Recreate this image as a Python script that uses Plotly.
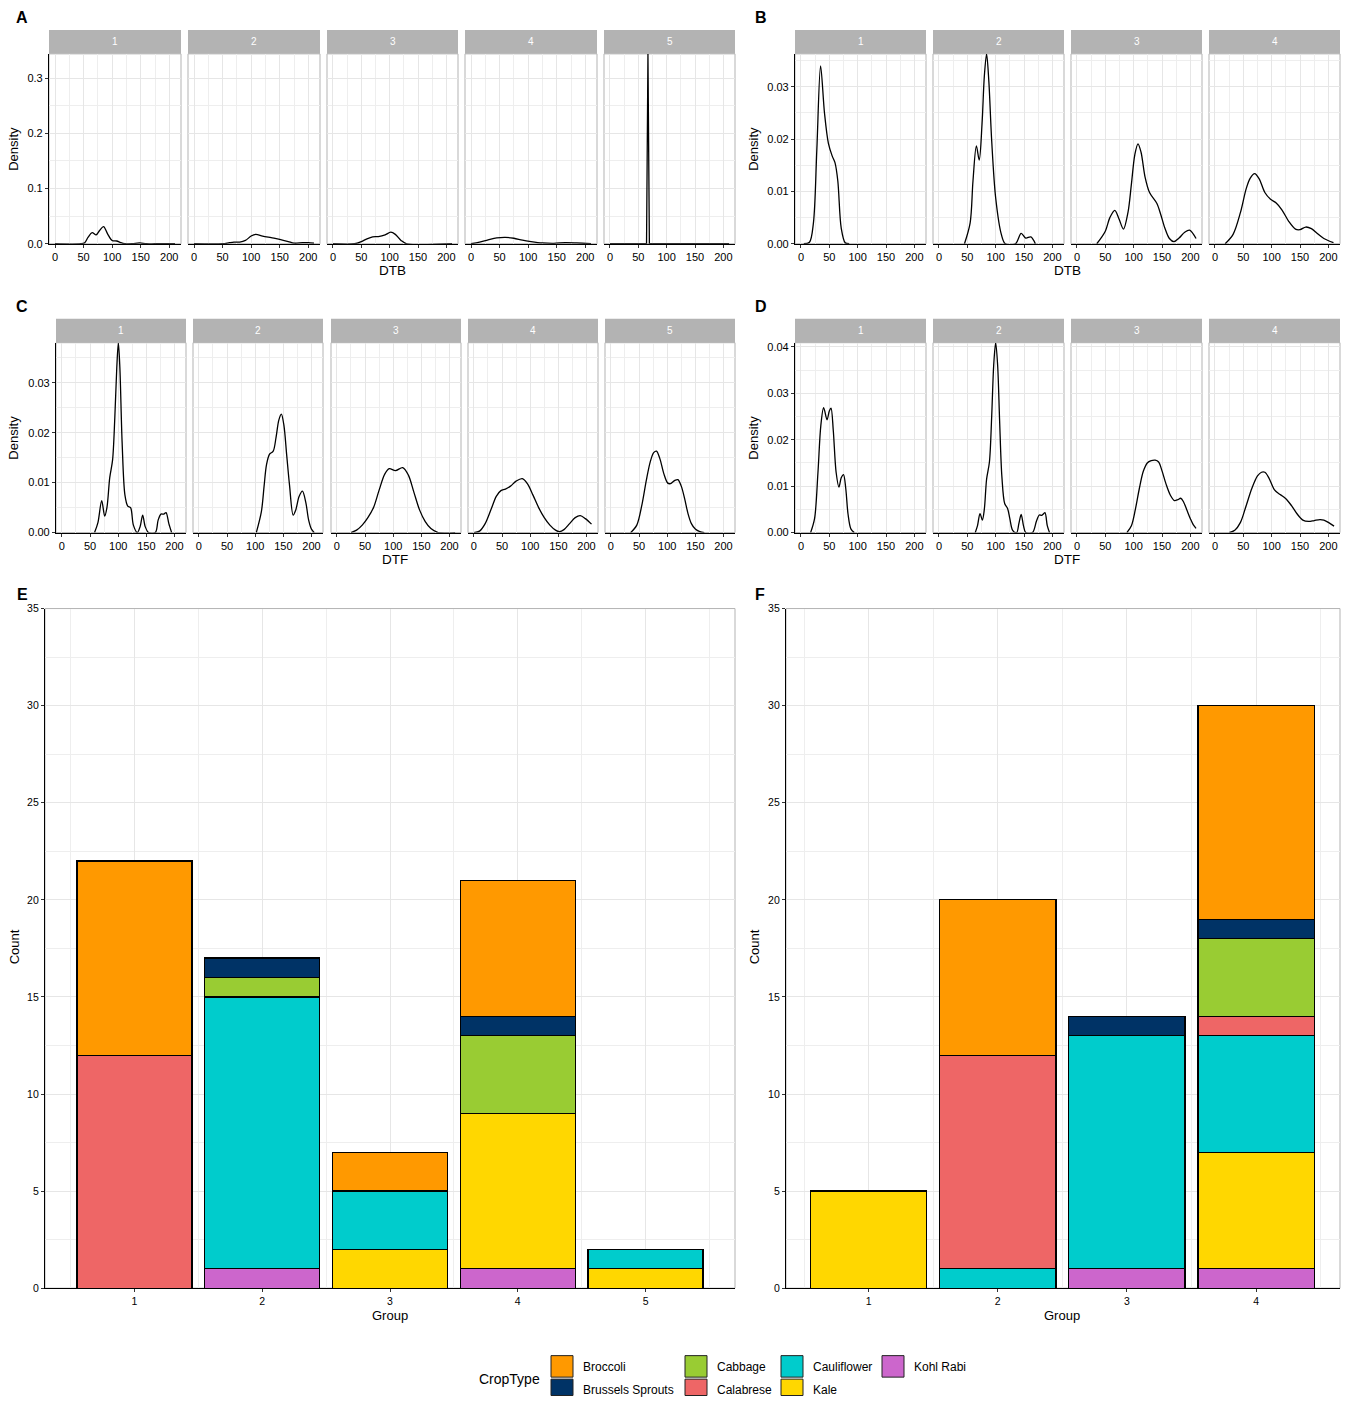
import plotly.graph_objects as go

W, H = 1353, 1402
FONT = "Liberation Sans, Arial, sans-serif"

# ---------------- data: density curves ----------------
# Panel A : DTB, 5 groups
a1_x = [0, 45, 52, 58, 65, 72, 78, 85, 92, 100, 108, 115, 122, 135, 148, 160, 175, 210]
a1_y = [0, 0, 0.002, 0.012, 0.02, 0.016, 0.024, 0.031, 0.018, 0.006, 0.005, 0.002, 0.0, 0.0, 0.0015, 0.0, 0.0, 0.0]
a2_x = [0, 50, 62, 70, 80, 90, 100, 108, 120, 135, 150, 165, 175, 190, 200, 210]
a2_y = [0, 0, 0.002, 0.003, 0.003, 0.006, 0.014, 0.017, 0.014, 0.011, 0.008, 0.004, 0.001, 0.002, 0.002, 0.001]
a3_x = [0, 38, 50, 60, 70, 80, 92, 102, 110, 120, 130, 210]
a3_y = [0, 0, 0.004, 0.009, 0.0125, 0.013, 0.016, 0.021, 0.017, 0.006, 0.0, 0]
a4_x = [0, 15, 30, 45, 60, 75, 90, 105, 125, 145, 165, 185, 210]
a4_y = [0, 0.003, 0.007, 0.0105, 0.0115, 0.01, 0.0065, 0.004, 0.0015, 0.0008, 0.0022, 0.0015, 0.0]
a5_x = [0, 64.5, 67, 69.5, 210]
a5_y = [0, 0, 0.344, 0, 0]

# Panel B : DTB, 4 groups
b1_x = [5, 15, 22, 28, 34.6, 41.5, 48.4, 55, 60, 65, 71, 78, 85]
b1_y = [0, 0.0003, 0.004, 0.018, 0.034, 0.025, 0.0192, 0.0168, 0.0155, 0.012, 0.003, 0.0002, 0]
b2_x = [45, 55, 60, 66, 71, 76, 80, 84, 88, 93, 100, 110, 117, 135, 145, 153, 162, 170]
b2_y = [0, 0.004, 0.012, 0.0187, 0.016, 0.023, 0.032, 0.0363, 0.031, 0.0197, 0.0088, 0.0018, 0.0, 0.0, 0.002, 0.0011, 0.0013, 0.0]
b3_x = [35, 50, 58, 66.7, 74, 82, 90, 96, 102, 107.6, 113, 120, 128, 141, 148, 155, 163, 171, 180, 190, 198.6, 210]
b3_y = [0, 0.0024, 0.005, 0.0064, 0.0048, 0.0028, 0.006, 0.0114, 0.017, 0.0191, 0.0175, 0.0128, 0.0098, 0.0077, 0.0055, 0.003, 0.001, 0.0004, 0.0011, 0.0022, 0.0026, 0.001]
b4_x = [18, 32, 45, 55, 62, 70, 78, 88, 98, 108, 118, 130, 142, 150, 160, 170, 180, 192, 209]
b4_y = [0, 0.0018, 0.006, 0.0105, 0.0125, 0.0134, 0.0124, 0.0098, 0.0085, 0.0078, 0.0065, 0.0043, 0.0028, 0.0027, 0.0032, 0.0029, 0.002, 0.001, 0.0002]

# Panel C : DTF, 5 groups
c1_x = [58, 64, 70.7, 76, 80, 85, 90, 94, 97.5, 100.3, 103, 107, 112, 117, 122, 127, 134, 139, 143.5, 148, 154, 166, 171, 176, 181, 185, 190, 195]
c1_y = [0, 0.002, 0.0064, 0.0033, 0.005, 0.011, 0.0145, 0.023, 0.033, 0.038, 0.033, 0.018, 0.0075, 0.0053, 0.005, 0.0015, 0.0, 0.0012, 0.0035, 0.0012, 0.0, 0.0, 0.0025, 0.0037, 0.0037, 0.004, 0.0018, 0.0]
c2_x = [102, 111, 116, 120, 125.5, 132, 137, 142, 146.5, 151, 156, 161, 167.5, 172, 178, 184, 190, 195, 200, 205]
c2_y = [0, 0.0042, 0.0095, 0.0135, 0.0157, 0.0163, 0.019, 0.0225, 0.0237, 0.0215, 0.0155, 0.0095, 0.0035, 0.0045, 0.0072, 0.0083, 0.006, 0.0025, 0.0007, 0]
c3_x = [25, 35, 45, 55, 65, 75, 85, 93, 104, 117, 127, 137, 147, 157, 167, 180, 210]
c3_y = [0, 0.0005, 0.0015, 0.003, 0.005, 0.0085, 0.0117, 0.0128, 0.0124, 0.013, 0.0115, 0.008, 0.0045, 0.0022, 0.0008, 0, 0]
c4_x = [0, 10, 20, 30, 40, 48, 56, 65, 75, 86, 95, 105, 115, 125, 135, 145, 152, 160, 170, 180, 189, 198, 209]
c4_y = [0, 0.0003, 0.0018, 0.0045, 0.0073, 0.0084, 0.0087, 0.0093, 0.0103, 0.0108, 0.0098, 0.0075, 0.005, 0.003, 0.0015, 0.0005, 0.0002, 0.0006, 0.0018, 0.003, 0.0034, 0.0028, 0.0017]
c5_x = [35, 46, 55, 63, 70, 76, 81, 87, 94, 101, 106, 113, 119, 125, 131, 137, 143, 150, 158, 166]
c5_y = [0, 0.0015, 0.0055, 0.0105, 0.0142, 0.016, 0.0163, 0.0148, 0.0118, 0.0099, 0.0098, 0.0104, 0.0106, 0.0093, 0.0068, 0.0038, 0.0018, 0.0007, 0.0002, 0]

# Panel D : DTF, 4 groups
d1_x = [17, 24, 30, 35, 40, 46, 50, 53, 57, 62, 67, 71, 75, 79, 83, 88, 94]
d1_y = [0, 0.003, 0.013, 0.023, 0.0269, 0.0243, 0.0262, 0.0268, 0.022, 0.013, 0.0098, 0.0118, 0.0125, 0.0095, 0.004, 0.0008, 0]
d2_x = [64, 68, 72.4, 76.5, 80, 84, 89, 93, 96.5, 100, 103.5, 107, 111, 116, 121, 125, 130, 137, 141, 145, 149, 153, 165, 172, 177, 181, 184, 187, 191, 195]
d2_y = [0, 0.0015, 0.0041, 0.0027, 0.005, 0.0115, 0.0152, 0.025, 0.036, 0.0409, 0.036, 0.024, 0.012, 0.0062, 0.0052, 0.003, 0.0005, 0.0, 0.002, 0.0039, 0.0015, 0.0, 0.0, 0.0025, 0.0038, 0.0037, 0.004, 0.0043, 0.0015, 0]
d3_x = [88, 96, 103, 110, 117, 124, 131, 138, 144, 150, 157, 165, 172, 178, 183, 188, 194, 200, 205, 210]
d3_y = [0, 0.0015, 0.005, 0.0095, 0.0132, 0.015, 0.0155, 0.0156, 0.0152, 0.0133, 0.0105, 0.008, 0.0069, 0.0071, 0.0074, 0.0066, 0.0048, 0.003, 0.0017, 0.0009]
d4_x = [25, 35, 45, 55, 65, 75, 82, 88, 95, 105, 115, 125, 135, 145, 155, 165, 175, 185, 192, 200, 210]
d4_y = [0, 0.0005, 0.0022, 0.0058, 0.0095, 0.0122, 0.013, 0.013, 0.0118, 0.0092, 0.0082, 0.0073, 0.0058, 0.004, 0.0027, 0.0024, 0.0026, 0.0028, 0.0027, 0.0022, 0.0014]

density_ticks = [0, 50, 100, 150, 200]

# ---------------- data: stacked bars ----------------
crop_types = ["Broccoli", "Brussels Sprouts", "Cabbage", "Calabrese", "Cauliflower", "Kale", "Kohl Rabi"]
crop_colors = ["#FF9900", "#003366", "#99CC33", "#EE6666", "#00CCCC", "#FFD700", "#CC66CC"]

e_groups = [1, 2, 3, 4, 5]
e_broccoli = [10, 0, 2, 7, 0]
e_brussels = [0, 1, 0, 1, 0]
e_cabbage = [0, 1, 0, 4, 0]
e_calabrese = [12, 0, 0, 0, 0]
e_cauliflower = [0, 14, 3, 0, 1]
e_kale = [0, 0, 2, 8, 1]
e_kohlrabi = [0, 1, 0, 1, 0]

f_groups = [1, 2, 3, 4]
f_broccoli = [0, 8, 0, 11]
f_brussels = [0, 0, 1, 1]
f_cabbage = [0, 0, 0, 4]
f_calabrese = [0, 11, 0, 1]
f_cauliflower = [0, 1, 12, 6]
f_kale = [5, 0, 0, 6]
f_kohlrabi = [0, 0, 1, 1]

count_ticks = [0, 5, 10, 15, 20, 25, 30, 35]

# ---------------- layout helpers ----------------
GRID = "#E6E6E6"
MINOR = "#EEEEEE"
BORDER = "#B3B3B3"
VS, VO = 0.992, 5.1   # compensation for the slight vertical rescale seen in the capture


def Y(v):
    return (v - VO) / VS


def xdom(a, b):
    return [a / W, b / W]


def ydom(top, bottom):
    return [1 - Y(bottom) / H, 1 - Y(top) / H]


def ax(n):
    return "" if n == 1 else str(n)


fig = go.Figure()
layout = {}
shapes = []
annotations = []

density_panels = [
    # (x px range, y px range, strip label, x, y, yrange, first?, yticks, yfmt, yminor, line shape)
    ((49, 181), (53, 243), "1", a1_x, a1_y, [0, 0.344], True, [0, 0.1, 0.2, 0.3], ".1f", [0.05, 0.15, 0.25], "spline"),
    ((188, 320), (53, 243), "2", a2_x, a2_y, [0, 0.344], False, [0, 0.1, 0.2, 0.3], ".1f", [0.05, 0.15, 0.25], "spline"),
    ((327, 458), (53, 243), "3", a3_x, a3_y, [0, 0.344], False, [0, 0.1, 0.2, 0.3], ".1f", [0.05, 0.15, 0.25], "spline"),
    ((465, 597), (53, 243), "4", a4_x, a4_y, [0, 0.344], False, [0, 0.1, 0.2, 0.3], ".1f", [0.05, 0.15, 0.25], "spline"),
    ((604, 735), (53, 243), "5", a5_x, a5_y, [0, 0.344], False, [0, 0.1, 0.2, 0.3], ".1f", [0.05, 0.15, 0.25], "linear"),
    ((795, 926), (53, 243), "1", b1_x, b1_y, [0, 0.0363], True, [0, 0.01, 0.02, 0.03], ".2f", [0.005, 0.015, 0.025, 0.035], "spline"),
    ((933, 1064), (53, 243), "2", b2_x, b2_y, [0, 0.0363], False, [0, 0.01, 0.02, 0.03], ".2f", [0.005, 0.015, 0.025, 0.035], "spline"),
    ((1071, 1202), (53, 243), "3", b3_x, b3_y, [0, 0.0363], False, [0, 0.01, 0.02, 0.03], ".2f", [0.005, 0.015, 0.025, 0.035], "spline"),
    ((1209, 1340), (53, 243), "4", b4_x, b4_y, [0, 0.0363], False, [0, 0.01, 0.02, 0.03], ".2f", [0.005, 0.015, 0.025, 0.035], "spline"),
    ((56, 186), (342, 532), "1", c1_x, c1_y, [0, 0.038], True, [0, 0.01, 0.02, 0.03], ".2f", [0.005, 0.015, 0.025, 0.035], "spline"),
    ((193, 323), (342, 532), "2", c2_x, c2_y, [0, 0.038], False, [0, 0.01, 0.02, 0.03], ".2f", [0.005, 0.015, 0.025, 0.035], "spline"),
    ((331, 461), (342, 532), "3", c3_x, c3_y, [0, 0.038], False, [0, 0.01, 0.02, 0.03], ".2f", [0.005, 0.015, 0.025, 0.035], "spline"),
    ((468, 598), (342, 532), "4", c4_x, c4_y, [0, 0.038], False, [0, 0.01, 0.02, 0.03], ".2f", [0.005, 0.015, 0.025, 0.035], "spline"),
    ((605, 735), (342, 532), "5", c5_x, c5_y, [0, 0.038], False, [0, 0.01, 0.02, 0.03], ".2f", [0.005, 0.015, 0.025, 0.035], "spline"),
    ((795, 926), (342, 532), "1", d1_x, d1_y, [0, 0.0409], True, [0, 0.01, 0.02, 0.03, 0.04], ".2f", [0.005, 0.015, 0.025, 0.035], "spline"),
    ((933, 1064), (342, 532), "2", d2_x, d2_y, [0, 0.0409], False, [0, 0.01, 0.02, 0.03, 0.04], ".2f", [0.005, 0.015, 0.025, 0.035], "spline"),
    ((1071, 1202), (342, 532), "3", d3_x, d3_y, [0, 0.0409], False, [0, 0.01, 0.02, 0.03, 0.04], ".2f", [0.005, 0.015, 0.025, 0.035], "spline"),
    ((1209, 1340), (342, 532), "4", d4_x, d4_y, [0, 0.0409], False, [0, 0.01, 0.02, 0.03, 0.04], ".2f", [0.005, 0.015, 0.025, 0.035], "spline"),
]

tickfont = dict(family=FONT, size=11, color="black")

n = 0
for (xr, yr, lab, xs, ys, yrange, first, yt, yfmt, yminor, shape) in density_panels:
    n += 1
    s = ax(n)
    strip_h = 24 / (yr[1] - yr[0])
    layout["xaxis" + s] = dict(
        domain=xdom(*xr), anchor="y" + s, range=[-10.5, 220.5],
        tickvals=density_ticks, ticktext=[str(t) for t in density_ticks],
        showgrid=True, gridcolor=GRID, gridwidth=1.1,
        minor=dict(tickvals=[25, 75, 125, 175], showgrid=True, gridcolor=MINOR, gridwidth=0.6),
        showline=True, linecolor="black", linewidth=1.2, ticks="outside", ticklen=3,
        tickcolor="#333333", tickfont=tickfont, zeroline=False, fixedrange=True)
    layout["yaxis" + s] = dict(
        domain=ydom(*yr), anchor="x" + s, range=yrange,
        tickvals=yt, tickformat=yfmt, showticklabels=first,
        showgrid=True, gridcolor=GRID, gridwidth=1.1,
        minor=dict(tickvals=yminor, showgrid=True, gridcolor=MINOR, gridwidth=0.6),
        showline=first, linecolor="black", linewidth=1.2,
        ticks="outside" if first else "", ticklen=3, tickcolor="#333333",
        tickfont=tickfont, zeroline=False, fixedrange=True)
    fig.add_trace(go.Scatter(
        x=xs, y=ys, mode="lines", line=dict(color="black", width=1.3, shape=shape, smoothing=0.9),
        xaxis="x" + s, yaxis="y" + s, showlegend=False, hoverinfo="x+y", cliponaxis=True))
    shapes.append(dict(type="rect", xref="x" + s + " domain", yref="y" + s + " domain",
                       x0=0, x1=1, y0=0, y1=1, line=dict(color=BORDER, width=1), layer="below"))
    shapes.append(dict(type="rect", xref="x" + s + " domain", yref="y" + s + " domain",
                       x0=0, x1=1, y0=1, y1=1 + strip_h, fillcolor="#B3B3B3",
                       line=dict(width=0), layer="above"))
    annotations.append(dict(text=lab, xref="x" + s + " domain", yref="y" + s + " domain",
                            x=0.5, y=1 + strip_h / 2, showarrow=False,
                            font=dict(family=FONT, size=10, color="white"),
                            xanchor="center", yanchor="middle"))

# ---------------- bar panels ----------------
bar_panels = [
    ((45, 735), (608, 1288), e_groups, [e_broccoli, e_brussels, e_cabbage, e_calabrese, e_cauliflower, e_kale, e_kohlrabi], [0.3, 5.7]),
    ((786, 1340), (608, 1288), f_groups, [f_broccoli, f_brussels, f_cabbage, f_calabrese, f_cauliflower, f_kale, f_kohlrabi], [0.36, 4.65]),
]
barfont = dict(family=FONT, size=10.5, color="black")
for (xr, yr, groups, series, xrange_) in bar_panels:
    n += 1
    s = ax(n)
    layout["xaxis" + s] = dict(
        domain=xdom(*xr), anchor="y" + s, range=xrange_,
        tickvals=groups, ticktext=[str(g) for g in groups],
        showgrid=True, gridcolor=GRID, gridwidth=1.1,
        minor=dict(tickvals=[g - 0.5 for g in groups] + [groups[-1] + 0.5], showgrid=True,
                   gridcolor=MINOR, gridwidth=0.6),
        showline=True, linecolor="black", linewidth=1.2, ticks="outside", ticklen=3,
        tickcolor="#333333", tickfont=barfont, zeroline=False, fixedrange=True)
    layout["yaxis" + s] = dict(
        domain=ydom(*yr), anchor="x" + s, range=[0, 35],
        tickvals=count_ticks, showgrid=True, gridcolor=GRID, gridwidth=1.1,
        minor=dict(tickvals=[2.5, 7.5, 12.5, 17.5, 22.5, 27.5, 32.5], showgrid=True,
                   gridcolor=MINOR, gridwidth=0.6),
        showline=True, linecolor="black", linewidth=1.2, ticks="outside", ticklen=3,
        tickcolor="#333333", tickfont=barfont, zeroline=False, fixedrange=True)
    shapes.append(dict(type="rect", xref="x" + s + " domain", yref="y" + s + " domain",
                       x0=0, x1=1, y0=0, y1=1, line=dict(color=BORDER, width=1), layer="below"))
    # stack bottom-to-top: reverse of legend order
    for name, color, vals in reversed(list(zip(crop_types, crop_colors, series))):
        fig.add_trace(go.Bar(
            x=groups, y=[v if v else None for v in vals], name=name, width=0.9,
            marker=dict(color=color, line=dict(color="black", width=1.2)),
            xaxis="x" + s, yaxis="y" + s, showlegend=False))

# ---------------- text: panel letters & axis titles ----------------
def pa(x, y, text, size=13, angle=0, bold=False, xanchor="center"):
    annotations.append(dict(text="<b>%s</b>" % text if bold else text,
                            xref="paper", yref="paper", x=x / W, y=1 - Y(y) / H,
                            showarrow=False, textangle=angle, xanchor=xanchor, yanchor="middle",
                            font=dict(family=FONT, size=size, color="black")))

for letter, x, y in [("A", 22, 17), ("B", 761, 17), ("C", 22, 306), ("D", 761, 306),
                     ("E", 22, 594), ("F", 760, 594)]:
    pa(x, y, letter, size=16, bold=True)

for x, y in [(14, 148), (754, 148), (14, 437), (754, 437)]:
    pa(x, y, "Density", size=13, angle=-90)
pa(14, 947, "Count", size=13, angle=-90)
pa(754, 947, "Count", size=13, angle=-90)
pa(392, 270, "DTB", size=13.5)
pa(1067, 270, "DTB", size=13.5)
pa(395, 559, "DTF", size=13.5)
pa(1067, 559, "DTF", size=13.5)
pa(390, 1315, "Group", size=13)
pa(1062, 1315, "Group", size=13)

# ---------------- legend (manual, 2 rows column-major) ----------------
pa(509, 1379, "CropType", size=14)
key_cols = [551, 685, 781, 882]
key_rows = [1355.5, 1379.0]
for i, (name, color) in enumerate(zip(crop_types, crop_colors)):
    cx = key_cols[i // 2]
    ry = key_rows[i % 2]
    top = Y(ry)
    bot = min(Y(ry + 21.5), H - 0.5)
    shapes.append(dict(type="rect", xref="paper", yref="paper",
                       x0=cx / W, x1=(cx + 22) / W, y0=1 - bot / H, y1=1 - top / H,
                       fillcolor=color, line=dict(color="#222222", width=1)))
    pa(cx + 30, ry + 11, name, size=12, xanchor="left")

layout.update(dict(
    width=W, height=H, margin=dict(l=0, r=0, t=0, b=0),
    paper_bgcolor="white", plot_bgcolor="white", barmode="stack", bargap=0.1,
    showlegend=False, shapes=shapes, annotations=annotations,
    font=dict(family=FONT, color="black")))
fig.update_layout(**layout)

css_fix = (
    "var st=document.createElement('style');"
    "st.innerHTML='html,body{margin:0!important;padding:0!important;overflow:hidden!important;}';"
    "document.head.appendChild(st);"
)
fig.write_html("out.html", post_script=css_fix, config={"displayModeBar": False})
